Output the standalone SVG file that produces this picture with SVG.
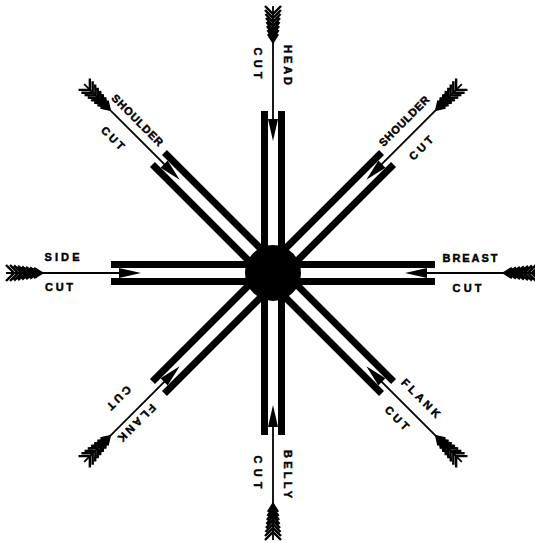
<svg xmlns="http://www.w3.org/2000/svg" xmlns:xlink="http://www.w3.org/1999/xlink" width="535" height="543" viewBox="0 0 535 543">
<style>
  .lbl { font-family: "Liberation Sans", Arial, sans-serif; font-weight: bold; font-size: 11px; fill: #000; stroke: #000; stroke-width: 0.45; text-anchor: middle; }
  .shaft { stroke: #000; stroke-width: 1.8; fill: none; }
  .fl { stroke: #000; stroke-width: 2.4; fill: none; stroke-linejoin: miter; }
  .bar { fill: #000; }
</style>
<defs>
  <g id="channel">
    <rect class="bar" x="0" y="-12" width="162" height="7"/>
    <rect class="bar" x="0" y="5" width="162" height="7"/>
  </g>
  <g id="arrow">
    <line class="shaft" x1="145" y1="0" x2="267" y2="0"/>
    <polygon points="132,0 154,-5 154,5" fill="#000"/>
    <path class="fl" d="M239,-5L231,0L239,5 M243,-5.5L235,0L243,5.5 M247,-6L239,0L247,6 M251,-6.5L243,0L251,6.5 M255,-7L247,0L255,7 M259,-7.5L251,0L259,7.5 M263,-8L255,0L263,8 M267,-8L259,0L267,8"/>
  </g>
</defs>
<rect width="535" height="543" fill="#fff"/>

<g id="connectors">
  <use xlink:href="#arrow" transform="translate(273 273) rotate(270)"/>
  <use xlink:href="#arrow" transform="translate(273 273) rotate(315)"/>
  <use xlink:href="#arrow" transform="translate(273 273) rotate(0)"/>
  <use xlink:href="#arrow" transform="translate(273 273) rotate(45)"/>
  <use xlink:href="#arrow" transform="translate(273 273) rotate(90)"/>
  <use xlink:href="#arrow" transform="translate(273 273) rotate(135)"/>
  <use xlink:href="#arrow" transform="translate(273 273) rotate(180)"/>
  <use xlink:href="#arrow" transform="translate(273 273) rotate(225)"/>
</g>

<g id="head-cut">
  <use xlink:href="#channel" transform="translate(273 273) rotate(270)"/>
  <text class="lbl" transform="translate(288 65) rotate(90)" y="4" textLength="40" lengthAdjust="spacing">HEAD</text>
  <text class="lbl" transform="translate(258 63) rotate(90)" y="4" textLength="31" lengthAdjust="spacing">CUT</text>
</g>

<g id="shoulder-cut-right">
  <use xlink:href="#channel" transform="translate(273 273) rotate(315)"/>
  <text class="lbl" transform="translate(404 121) rotate(-45)" y="4" textLength="66" lengthAdjust="spacing">SHOULDER</text>
  <text class="lbl" transform="translate(421 148) rotate(-45)" y="4" textLength="29" lengthAdjust="spacing">CUT</text>
</g>

<g id="breast-cut">
  <use xlink:href="#channel" transform="translate(273 273) rotate(0)"/>
  <text class="lbl" x="470" y="262" textLength="55" lengthAdjust="spacing">BREAST</text>
  <text class="lbl" x="467" y="292" textLength="29" lengthAdjust="spacing">CUT</text>
</g>

<g id="flank-cut-right">
  <use xlink:href="#channel" transform="translate(273 273) rotate(45)"/>
  <text class="lbl" transform="translate(421 398) rotate(45)" y="4" textLength="50" lengthAdjust="spacing">FLANK</text>
  <text class="lbl" transform="translate(397 418) rotate(45)" y="4" textLength="29" lengthAdjust="spacing">CUT</text>
</g>

<g id="belly-cut">
  <use xlink:href="#channel" transform="translate(273 273) rotate(90)"/>
  <text class="lbl" transform="translate(288 474) rotate(90)" y="4" textLength="48" lengthAdjust="spacing">BELLY</text>
  <text class="lbl" transform="translate(258 472) rotate(90)" y="4" textLength="33" lengthAdjust="spacing">CUT</text>
</g>

<g id="flank-cut-left">
  <use xlink:href="#channel" transform="translate(273 273) rotate(135)"/>
  <text class="lbl" transform="translate(137 423) rotate(135)" y="4" textLength="48" lengthAdjust="spacing">FLANK</text>
  <text class="lbl" transform="translate(119 398) rotate(135)" y="4" textLength="29" lengthAdjust="spacing">CUT</text>
</g>

<g id="side-cut">
  <use xlink:href="#channel" transform="translate(273 273) rotate(180)"/>
  <text class="lbl" x="62" y="261" textLength="35" lengthAdjust="spacing">SIDE</text>
  <text class="lbl" x="59" y="291" textLength="28" lengthAdjust="spacing">CUT</text>
</g>

<g id="shoulder-cut-left">
  <use xlink:href="#channel" transform="translate(273 273) rotate(225)"/>
  <text class="lbl" transform="translate(137.5 120) rotate(45)" y="4" textLength="68" lengthAdjust="spacing">SHOULDER</text>
  <text class="lbl" transform="translate(113 138) rotate(45)" y="4" textLength="28" lengthAdjust="spacing">CUT</text>
</g>

<g id="center">
  <circle cx="273" cy="273" r="28" fill="#000"/>
</g>
</svg>
